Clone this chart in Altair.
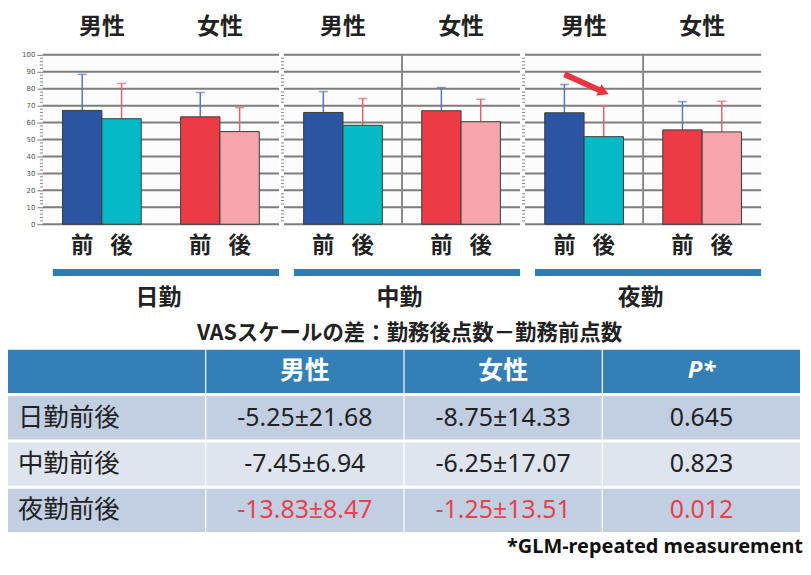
import altair as alt
import pandas as pd

CJK = "Noto Sans CJK JP"
LAT = "Noto Sans"

# ---------------- data ----------------
shifts = ["日勤", "中勤", "夜勤"]
sexes = ["男性", "女性"]
timings = ["前", "後"]
# order within each shift: 男性前, 男性後, 女性前, 女性後
means = {
    "日勤": [67.2, 62.3, 63.4, 54.7],
    "中勤": [66.0, 58.4, 67.0, 60.5],
    "夜勤": [65.8, 51.7, 55.7, 54.5],
}
sds = {
    "日勤": [21.3, 20.8, 14.4, 14.1],
    "中勤": [12.3, 15.8, 13.7, 13.3],
    "夜勤": [16.7, 18.3, 16.7, 18.1],
}
arrow_timing = ["前", "後"]
arrow_values = [88.5, 78.0]
y_ticks = list(range(0, 101, 10))
y_minor = [v for v in range(0, 101, 2) if v % 10 != 0]

table_title = "VASスケールの差：勤務後点数－勤務前点数"
table_header = ["", "男性", "女性", "P*"]
table_rows = ["日勤前後", "中勤前後", "夜勤前後"]
male_diff = ["-5.25±21.68", "-7.45±6.94", "-13.83±8.47"]
female_diff = ["-8.75±14.33", "-6.25±17.07", "-1.25±13.51"]
p_values = ["0.645", "0.823", "0.012"]
significant = [False, False, True]
footnote = "*GLM-repeated measurement"

# ---------------- tables ----------------
bar_rows = []
for s in shifts:
    k = 0
    for sx in sexes:
        for t in timings:
            m = means[s][k]
            bar_rows.append({"shift": s, "sex": sx, "timing": t, "key": sx + t,
                             "mean": m, "upper": m + sds[s][k]})
            k += 1
bars_df = pd.DataFrame(bar_rows)
arrow_df = pd.DataFrame({"sex": ["男性"] * 2, "timing": arrow_timing,
                         "value": arrow_values, "step": [0, 1]})
grid_df = pd.DataFrame({"v": y_ticks})
minor_df = pd.DataFrame({"v": y_minor})

W, H = 237, 170

x_scale = alt.Scale(domain=sexes, paddingInner=0, paddingOuter=0)
x_axis = alt.Axis(orient="top", title=None, ticks=False, domain=False, grid=False,
                  labelFont=CJK, labelFontSize=23, labelFontWeight="bold",
                  labelColor="#222", labelPadding=16, labelAngle=0)
xo = alt.XOffset("timing:N", sort=timings,
                 scale=alt.Scale(domain=timings, paddingInner=0, paddingOuter=0.5))
y_scale = alt.Scale(domain=[0, 100], nice=False)


def y_axis(first):
    if first:
        return alt.Axis(values=y_ticks, title=None, labelOverlap=False,
                        labelFont="DejaVu Sans", labelFontSize=7, labelColor="#555",
                        labelPadding=2, tickColor="#777", tickSize=6,
                        domainColor="#888", grid=False, minExtent=35, maxExtent=35)
    return None


def panel(shift, first):
    d = bars_df[bars_df["shift"] == shift]
    x = alt.X("sex:N", sort=sexes, scale=x_scale, axis=x_axis)
    y = alt.Y("mean:Q", scale=y_scale, axis=y_axis(first))
    base = alt.Chart(d)
    bg = alt.Chart(d.head(1)).mark_rect(color="#fcfcfc").encode(
        x=alt.value(0), x2=alt.value(W), y=alt.value(0), y2=alt.value(H))
    grid = alt.Chart(grid_df).mark_rule(color="#7d7d7d", strokeWidth=2).encode(
        y=alt.Y("v:Q", scale=y_scale, axis=y_axis(first)))
    layers = [bg, grid]
    if not first:
        div = alt.Chart(d[(d["sex"] == "女性") & (d["timing"] == "前")]).mark_rule(
            color="#8a8a8a", strokeWidth=2).encode(
            x=alt.X("sex:N", sort=sexes, scale=x_scale, axis=x_axis, bandPosition=0))
        layers.append(div)
    minor = alt.Chart(minor_df).mark_rule(color="#888", strokeWidth=1).encode(
        y=alt.Y("v:Q", scale=y_scale, axis=y_axis(first)),
        x=alt.value(-3), x2=alt.value(0))
    layers.append(minor)
    bars = base.mark_bar(stroke="#3c3c3c", strokeWidth=1).encode(
        x=x, xOffset=xo, y=y,
        color=alt.Color("key:N", legend=None, scale=alt.Scale(
            domain=["男性前", "男性後", "女性前", "女性後"],
            range=["#2b55a3", "#06b9c6", "#ec3b45", "#f5a5ab"])))
    err_color = alt.Color("timing:N", legend=None,
                          scale=alt.Scale(domain=timings, range=["#5478c4", "#e8616a"]))
    err = base.mark_rule(strokeWidth=1.5).encode(
        x=x, xOffset=xo, y=alt.Y("mean:Q", scale=y_scale, axis=y_axis(first)),
        y2="upper:Q", color=err_color)
    cap = base.mark_tick(size=9, thickness=1.5).encode(
        x=x, xOffset=xo, y=alt.Y("upper:Q", scale=y_scale, axis=y_axis(first)),
        color=err_color)
    layers += [err, bars, cap]
    lab = base.mark_text(font=CJK, fontSize=22.5, fontWeight="bold", color="#222",
                         baseline="middle").encode(
        x=x, xOffset=xo, y=alt.value(192), text="timing:N")
    one = alt.Chart(d.head(1))
    band = one.mark_rect(color="#2e7db5").encode(
        x=alt.value(10), x2=alt.value(237), y=alt.value(215), y2=alt.value(222))
    sname = one.mark_text(font=CJK, fontSize=23, fontWeight="bold", color="#222",
                          baseline="middle").encode(
        x=alt.value(116), y=alt.value(244), text="shift:N")
    layers += [lab, band, sname]
    if shift == "夜勤":
        line = alt.Chart(arrow_df).mark_line(color="#e8353f", strokeWidth=6,
                                             strokeCap="butt").encode(
            x=x, xOffset=xo, y=alt.Y("value:Q", scale=y_scale, axis=y_axis(first)),
            order="step:Q")
        head = alt.Chart(arrow_df.tail(1)).mark_point(
            shape="triangle-right", filled=True, size=150, angle=25,
            color="#e8353f", opacity=1).encode(
            x=x, xOffset=xo, y=alt.Y("value:Q", scale=y_scale, axis=y_axis(first)))
        layers += [line, head]
    return alt.layer(*layers).properties(
        width=W, height=H,
        view=alt.ViewBackground(stroke="#8a8a8a", strokeWidth=1.5)
    ).resolve_scale(color="independent")


top = alt.hconcat(*[panel(s, i == 0) for i, s in enumerate(shifts)], spacing=0)

# ---------------- table ----------------
col_keys = ["label", "male", "female", "p"]
row_keys = ["header"] + table_rows
cells = []
for ck, txt in zip(col_keys, table_header):
    cells.append({"row": "header", "col": ck, "text": txt, "kind": "header", "sig": False})
for i, r in enumerate(table_rows):
    kind = "odd" if i % 2 == 0 else "even"
    vals = [r, male_diff[i], female_diff[i], p_values[i]]
    for ck, txt in zip(col_keys, vals):
        cells.append({"row": r, "col": ck, "text": txt, "kind": kind,
                      "sig": significant[i] and ck != "label"})
cells_df = pd.DataFrame(cells)

TW, TH = 760, 183
t_xscale = alt.Scale(domain=col_keys, paddingInner=0.006, paddingOuter=0, range=[-35, TW])
tx = alt.X("col:N", sort=col_keys, axis=None, scale=t_xscale)
ty = alt.Y("row:N", sort=row_keys, axis=None,
           scale=alt.Scale(domain=row_keys, paddingInner=0.065, paddingOuter=0))
tb = alt.Chart(cells_df)
rects = tb.mark_rect().encode(
    x=tx, y=ty,
    fill=alt.Fill("kind:N", legend=None, scale=alt.Scale(
        domain=["header", "odd", "even"], range=["#3480b6", "#c2cfe3", "#dfe5ef"])))
head_txt = tb.transform_filter(
    "datum.kind === 'header' && (datum.col === 'male' || datum.col === 'female')"
).mark_text(font=CJK, fontSize=25, fontWeight="bold", color="white").encode(
    x=tx, y=ty, text="text:N")
p_txt = tb.transform_filter("datum.kind === 'header' && datum.col === 'p'").mark_text(
    font=LAT, fontSize=24, fontWeight="bold", fontStyle="italic", color="white").encode(
    x=tx, y=ty, text="text:N")
lab_txt = tb.transform_filter("datum.kind !== 'header' && datum.col === 'label'").mark_text(
    font=CJK, fontSize=25.5, color="#222", align="left", dx=10).encode(
    x=alt.X("col:N", sort=col_keys, axis=None, bandPosition=0, scale=t_xscale),
    y=ty, text="text:N")
val_txt = tb.transform_filter("datum.kind !== 'header' && datum.col !== 'label'").mark_text(
    font=LAT, fontSize=25).encode(
    x=tx, y=ty, text="text:N",
    color=alt.condition("datum.sig", alt.value("#e8414b"), alt.value("#222")))
note = alt.Chart(pd.DataFrame({"t": [footnote]})).mark_text(
    font=LAT, fontSize=20, fontWeight="bold", color="#111", align="right",
    baseline="middle").encode(x=alt.value(TW + 3), y=alt.value(TH + 15), text="t:N")

table = alt.layer(rects, head_txt, p_txt, lab_txt, val_txt, note).properties(
    width=TW, height=TH,
    title=alt.TitleParams(table_title, font=CJK, fontSize=21.5, fontWeight="bold",
                          color="#222", anchor="middle", offset=5, dx=-12),
    view=alt.ViewBackground(strokeOpacity=0, fillOpacity=0))

chart = alt.vconcat(top, table, spacing=13).properties(
    padding={"left": 0, "top": 7, "right": 0, "bottom": 0}
).configure(font=CJK).configure_view(strokeOpacity=0)

chart.save("out.html", embed_options={"renderer": "svg", "actions": False})
